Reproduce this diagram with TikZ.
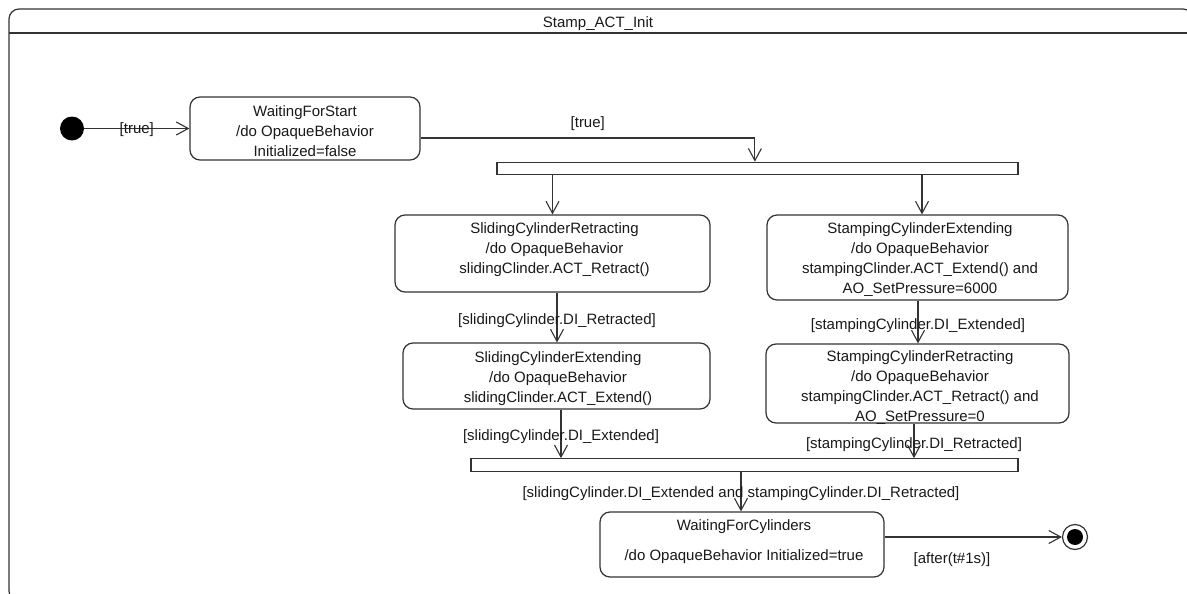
\documentclass[tikz,border=0pt]{standalone}
\usepackage{fontspec}
\setmainfont{Liberation Sans}
\usetikzlibrary{arrows.meta}
\begin{document}
\begin{tikzpicture}[x=1pt,y=-1pt,
  every node/.style={font=\fontsize{15}{20}\selectfont, text=black!90},
  frame/.style={draw=black!80, line width=1.2pt},
  state/.style={draw=black!80, line width=1.2pt, rounded corners=10pt, fill=white, inner sep=0pt},
  bar/.style={draw=black!80, line width=1.2pt, fill=white, inner sep=0pt, minimum height=12.5pt},
  flow/.style={draw=black!80, line width=1.1pt, -{Straight Barb[length=12pt,width=13pt]}},
  guard/.style={inner sep=0pt},
  body/.style={align=center, inner sep=0pt}
]
\useasboundingbox (0,0) rectangle (1187,594);
\clip (0,0) rectangle (1187,594);

% enclosing state machine frame
\draw[frame, rounded corners=10pt] (9,9) rectangle (1193,601);
\draw[frame] (9,33) -- (1193,33);
\node (title) at (598,23.5) {Stamp\_ACT\_Init};

% pseudo states
\node[circle, fill=black, minimum size=24pt, inner sep=0pt] (init) at (72,128.5) {};
\node[circle, draw=black!80, line width=1.2pt, fill=white, minimum size=25pt, inner sep=0pt] (final) at (1075,537) {};
\node[circle, fill=black, minimum size=16pt, inner sep=0pt] (finaldot) at (final) {};

% states
\node[state, minimum width=230pt, minimum height=63pt] (wfs) at (305,128.5) {};
\node[body] (wfs-text) at (305,131) {WaitingForStart\\/do OpaqueBehavior\\Initialized=false};

\node[state, minimum width=315pt, minimum height=77pt] (scr) at (552.5,253.5) {};
\node[body] (scr-text) at (554.5,250) {SlidingCylinderRetracting\\/do OpaqueBehavior\\slidingClinder.ACT\_Retract()};

\node[state, minimum width=307pt, minimum height=66pt] (sce) at (556.5,376) {};
\node[body] (sce-text) at (558,379) {SlidingCylinderExtending\\/do OpaqueBehavior\\slidingClinder.ACT\_Extend()};

\node[state, minimum width=301pt, minimum height=85pt] (stce) at (917.5,257.5) {};
\node[body] (stce-text) at (920,260) {StampingCylinderExtending\\/do OpaqueBehavior\\stampingClinder.ACT\_Extend() and\\AO\_SetPressure=6000};

\node[state, minimum width=303pt, minimum height=79pt] (stcr) at (917.5,383.5) {};
\node[body] (stcr-text) at (920,388) {StampingCylinderRetracting\\/do OpaqueBehavior\\stampingClinder.ACT\_Retract() and\\AO\_SetPressure=0};

\node[state, minimum width=284pt, minimum height=65pt] (wfc) at (742,544.5) {};
\node[body] (wfc-text) at (744,542) {WaitingForCylinders\\[10pt]/do OpaqueBehavior Initialized=true};

% fork and join bars
\node[bar, minimum width=521pt] (fork1) at (757.5,168.5) {};
\node[bar, minimum width=547pt] (join1) at (744.5,465) {};

% attachment points
\coordinate (wfs-out) at ([yshift=-9.5pt]wfs.east);
\coordinate (fork-in) at ([xshift=258.5pt]fork1.north west);
\coordinate (stce-in) at ([xshift=4.5pt]stce.north);
\coordinate (scr-out) at ([xshift=4.5pt]scr.south);
\coordinate (sce-out) at ([xshift=4.5pt]sce.south);
\coordinate (stce-out) at ([xshift=0.5pt]stce.south);
\coordinate (stcr-out) at ([xshift=-3.5pt]stcr.south);
\coordinate (join-out) at ([xshift=-3.5pt]join1.south);
\coordinate (wfc-out) at ([yshift=7.5pt]wfc.east);

% transitions
\draw[flow] (init) -- (init -| wfs.west) node[guard, midway, yshift=-1pt] {[true]};
\draw[flow] (wfs-out) -| (fork-in) node[guard, pos=0.25, yshift=14pt] {[true]};
\draw[flow] (fork1.south -| scr.north) -- (scr.north);
\draw[flow] (fork1.south -| stce-in) -- (stce-in);
\draw[flow] (scr-out) -- (scr-out |- sce.north) node[guard, pos=0.57] {[slidingCylinder.DI\_Retracted]};
\draw[flow] (stce-out) -- (stce-out |- stcr.north) node[guard, pos=0.59] {[stampingCylinder.DI\_Extended]};
\draw[flow] (sce-out) -- (sce-out |- join1.north) node[guard, pos=0.56] {[slidingCylinder.DI\_Extended]};
\draw[flow] (stcr-out) -- (stcr-out |- join1.north) node[guard, pos=0.62] {[stampingCylinder.DI\_Retracted]};
\draw[flow] (join-out) -- (join-out |- wfc.north) node[guard, pos=0.56] {[slidingCylinder.DI\_Extended and stampingCylinder.DI\_Retracted]};
\draw[flow] (wfc-out) -- (final) node[guard, pos=0.38, yshift=-23pt] {[after(t\#1s)]};
\end{tikzpicture}
\end{document}
